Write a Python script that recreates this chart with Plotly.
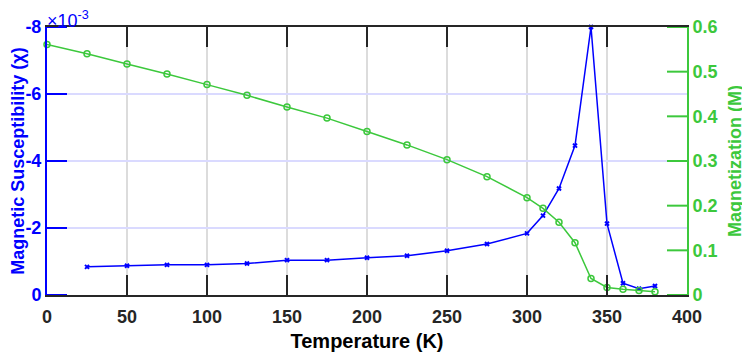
import plotly.graph_objects as go

# Data
temp_chi = [25, 50, 75, 100, 125, 150, 175, 200, 225, 250, 275, 300,
            310, 320, 330, 340, 350, 360, 370, 380]
chi_e3 = [-0.84, -0.875, -0.90, -0.90, -0.94, -1.04, -1.04, -1.11, -1.17, -1.32,
          -1.52, -1.84, -2.37, -3.18, -4.46, -8.0, -2.13, -0.35, -0.19, -0.27]

temp_m = [0, 25, 50, 75, 100, 125, 150, 175, 200, 225, 250, 275, 300,
          310, 320, 330, 340, 350, 360, 370, 380]
magnet = [0.561, 0.540, 0.517, 0.495, 0.471, 0.447, 0.421, 0.396, 0.366, 0.336,
          0.303, 0.265, 0.218, 0.194, 0.163, 0.117, 0.037, 0.017, 0.013, 0.010, 0.007]

x_ticks = [0, 50, 100, 150, 200, 250, 300, 350, 400]
chi_ticks = [-8, -6, -4, -2, 0]
m_ticks = [0, 0.1, 0.2, 0.3, 0.4, 0.5, 0.6]
m_labels = ["0", "0.1", "0.2", "0.3", "0.4", "0.5", "0.6"]

BLUE = "#0000FF"
GREEN = "#3CC83C"
DARK = "#262626"
FONT = "Arial, Liberation Sans"
TICK = 20  # tick length in pixels

fig = go.Figure()
fig.add_trace(go.Scatter(
    x=temp_chi, y=chi_e3, mode="lines+markers", yaxis="y",
    line=dict(color=BLUE, width=1.5),
    marker=dict(symbol="x-thin", size=4, line=dict(color=BLUE, width=2), color=BLUE),
    showlegend=False, cliponaxis=False))
fig.add_trace(go.Scatter(
    x=temp_m, y=magnet, mode="lines+markers", yaxis="y2",
    line=dict(color=GREEN, width=1.5),
    marker=dict(symbol="circle-open", size=6, line=dict(color=GREEN, width=1.5), color=GREEN),
    showlegend=False, cliponaxis=False))

shapes = []
# grid lines from the tick arrays, beneath everything
for v in x_ticks[1:-1]:
    shapes.append(dict(type="line", xref="x", yref="paper", x0=v, x1=v, y0=0, y1=1,
                       line=dict(color="#DCDCDC", width=2), layer="below"))
for v in chi_ticks[1:-1]:
    shapes.append(dict(type="line", xref="paper", yref="y", x0=0, x1=1, y0=v, y1=v,
                       line=dict(color="#DADAFF", width=2), layer="below"))
# inward ticks (bottom and top) for the x axis
for v in x_ticks[1:-1]:
    for base, sgn in ((0, 1), (1, -1)):
        shapes.append(dict(type="line", xref="x", yref="paper", ysizemode="pixel",
                           yanchor=base, x0=v, x1=v, y0=0, y1=sgn * TICK,
                           line=dict(color=DARK, width=2), layer="above"))
# inward ticks for the left axis
for v in chi_ticks:
    shapes.append(dict(type="line", xref="paper", yref="y", xsizemode="pixel",
                       xanchor=0, x0=0, x1=TICK, y0=v, y1=v,
                       line=dict(color=BLUE, width=2), layer="above"))
# inward ticks for the right axis
for v in m_ticks:
    shapes.append(dict(type="line", xref="paper", yref="y2", xsizemode="pixel",
                       xanchor=1, x0=0, x1=-TICK, y0=v, y1=v,
                       line=dict(color=GREEN, width=2), layer="above"))

fig.update_layout(
    width=742, height=346,
    margin=dict(l=39, r=63, t=19, b=59, autoexpand=False),
    paper_bgcolor="white", plot_bgcolor="white",
    font=dict(family=FONT, size=14, color=DARK),
    shapes=shapes,
    xaxis=dict(
        range=[0, 400], tickmode="array", tickvals=x_ticks,
        ticktext=[str(v) for v in x_ticks],
        showgrid=False,
        showline=True, linecolor=DARK, linewidth=2, mirror=True,
        ticks="", ticklabelstandoff=4,
        tickfont=dict(family=FONT, size=18, color=DARK, weight=700),
        title=dict(text="Temperature (K)", standoff=8,
                   font=dict(family=FONT, size=20, color="#000000", weight=700)),
        zeroline=False, automargin=False,
    ),
    yaxis=dict(
        range=[0, -8], tickmode="array", tickvals=chi_ticks,
        ticktext=[str(v) for v in chi_ticks],
        showgrid=False,
        showline=True, linecolor=BLUE, linewidth=2,
        ticks="",
        tickfont=dict(family=FONT, size=18, color=BLUE, weight=700),
        title=dict(text="Magnetic Susceptibility (\u03c7)", standoff=12,
                   font=dict(family=FONT, size=18, color=BLUE, weight=700)),
        zeroline=False, automargin=False,
    ),
    yaxis2=dict(
        range=[0, 0.6], tickmode="array", tickvals=m_ticks,
        ticktext=m_labels,
        overlaying="y", side="right", showgrid=False,
        showline=True, linecolor=GREEN, linewidth=2,
        ticks="",
        tickfont=dict(family=FONT, size=18, color=GREEN, weight=700),
        title=dict(text="Magnetization (M)", standoff=12,
                   font=dict(family=FONT, size=18, color=GREEN, weight=700)),
        zeroline=False, automargin=False,
    ),
    annotations=[dict(
        text="\u00d710<sup>-3</sup>", x=0, y=1, xref="paper", yref="paper",
        xanchor="left", yanchor="bottom", showarrow=False, yshift=-6, xshift=-2,
        font=dict(family=FONT, size=18, color=BLUE))],
)

fig.write_html("out.html")
